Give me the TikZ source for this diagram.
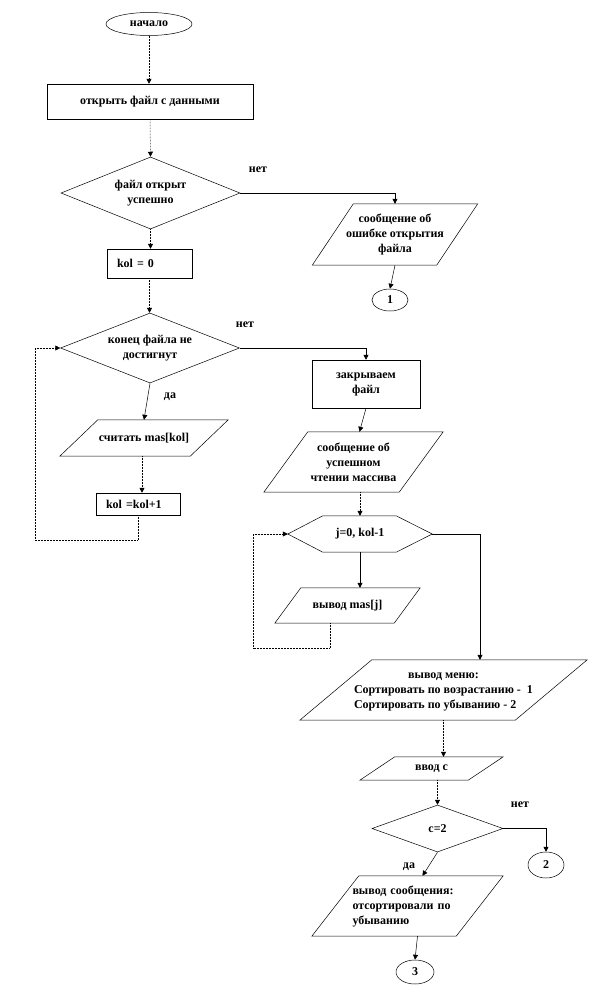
\documentclass[tikz,border=0pt]{standalone}
\usepackage{fontspec}
\setmainfont{Liberation Serif}
\usetikzlibrary{shapes.geometric,arrows.meta,calc}
\newcommand\paraoutline[2]{%
  \draw[shp] ($(#1.north west)+(#2/2,0)$) -- ($(#1.north east)+(#2/2,0)$) --
    ($(#1.south east)-(#2/2,0)$) -- ($(#1.south west)-(#2/2,0)$) -- cycle;}
\begin{document}
\begin{tikzpicture}[x=1pt,y=-1pt,
  every node/.style={font=\fontsize{12}{15}\selectfont\bfseries, inner sep=0pt},
  shp/.style={draw, line width=0.5pt},
  boxr/.style={shp, rectangle, align=center},
  elp/.style={shp, ellipse},
  dia/.style={shp, diamond, aspect=2.5, align=center},
  txtbox/.style={rectangle, align=center},
  arr/.style={-{Triangle[length=5pt,width=5pt]}, line width=0.5pt},
  dotarr/.style={arr, densely dotted},
  dotline/.style={line width=0.5pt, densely dotted}
]
\useasboundingbox (0,0) rectangle (612,996);

% nodes
\node[elp, minimum width=86, minimum height=23] (e0) at (149,24) {начало};
\node[boxr, minimum width=206, minimum height=35] (r1) at (150,101.5) {открыть файл с данными};
\node[dia, minimum width=179, minimum height=72] (d1) at (150.5,193) {файл открыт\\успешно};
\node (n1) at (258,170) {нет};
\node[txtbox, minimum width=124, minimum height=61] (p1) at (395,234.5) {сообщение об\\ошибке открытия\\файла};
\paraoutline{p1}{41}
\node[elp, minimum width=36, minimum height=22] (c1) at (390,300) {1};
\node[boxr, minimum width=85, minimum height=29, text width=65, align=left] (r2) at (149.5,263.5) {kol = 0};
\node[dia, minimum width=179, minimum height=70] (d2) at (150,348) {конец файла не\\достигнут};
\node (n2) at (245,325) {нет};
\node (y1) at (170,397) {да};
\node[boxr, minimum width=108, minimum height=48] (r3) at (366,384) {закрываем\\файл};
\node[txtbox, minimum width=130, minimum height=36] (p2) at (144,438) {считать mas[kol]};
\paraoutline{p2}{38}
\node[boxr, minimum width=84, minimum height=22, text width=64, align=left] (r4) at (138,504) {kol =kol+1};
\node[txtbox, minimum width=135, minimum height=60] (p3) at (353.5,462) {сообщение об\\успешном\\чтении массива};
\paraoutline{p3}{44}
\node[txtbox, minimum width=144, minimum height=36] (h1) at (360,534) {j=0, kol-1};
\draw[shp] (h1.west) -- ($(h1.north west)+(35,0)$) -- ($(h1.north east)-(36,0)$) -- (h1.east)
  -- ($(h1.south east)-(36,0)$) -- ($(h1.south west)+(35,0)$) -- cycle;
\node[txtbox, minimum width=119, minimum height=35] (p4) at (347.5,605.5) {вывод mas[j]};
\paraoutline{p4}{26}
\node[txtbox, minimum width=215, minimum height=60] (p5) at (443.5,690)
  {\begin{tabular}{@{}l@{}}\multicolumn{1}{@{}c@{}}{вывод меню:}\\Сортировать по возрастанию -\ \ 1\\Сортировать по убыванию - 2\end{tabular}};
\paraoutline{p5}{72}
\node[txtbox, minimum width=108, minimum height=23] (p6) at (431.5,768.5) {ввод с};
\paraoutline{p6}{35}
\node[dia, minimum width=131, minimum height=47] (d3) at (437.5,828.5) {c=2};
\node (n3) at (520,805) {нет};
\node[elp, minimum width=36, minimum height=26] (c2) at (546,865) {2};
\node (y2) at (409,867) {да};
\node[txtbox, minimum width=144, minimum height=60, text width=110, align=left] (p7) at (407.5,906)
  {вывод сообщения:\\отсортировали по\\убыванию};
\paraoutline{p7}{47}
\node[elp, minimum width=38, minimum height=24] (c3) at (415,972) {3};

\coordinate (lp1) at (35,540);
\coordinate (lp2) at (253,648);

% connectors
\draw[dotarr] (e0.south) -- (e0.south |- r1.north);
\draw[dotarr] (r1.south) -- (d1.north);
\draw[arr] (d1.east) -| (p1.north);
\draw[arr] (p1.south) -- (c1.north);
\draw[dotarr] (d1.south) -- (d1.south |- r2.north);
\draw[dotarr] (r2.south) -- (r2.south |- d2.north);
\draw[arr] (d2.east) -| (r3.north);
\draw[arr] (d2.south) -- (p2.north);
\draw[dotarr] ([xshift=-2pt]p2.south) -- ([xshift=-2pt]p2.south |- r4.north);
\draw[dotline] (r4.south) |- (lp1);
\draw[dotarr] (lp1) |- (d2.west);
\draw[arr] (r3.south) -- ([xshift=6pt]p3.north);
\draw[dotarr] (h1.north |- p3.south) -- (h1.north);
\draw[arr] (h1.east) -| ([xshift=36.5pt]p5.north);
\draw[arr] (h1.south) -- (h1.south |- p4.north);
\draw[dotline] ([xshift=-17.5pt]p4.south) |- (lp2);
\draw[dotarr] (lp2) |- (h1.west);
\draw[dotarr] (p5.south) -- (p5.south |- p6.north);
\draw[dotarr] (d3.north |- p6.south) -- (d3.north);
\draw[arr] (d3.east) -| (c2.north);
\draw[arr] (d3.south) -- ([xshift=15pt]p7.north);
\draw[arr] ([xshift=10pt]p7.south) -- (c3.north);
\end{tikzpicture}
\end{document}
